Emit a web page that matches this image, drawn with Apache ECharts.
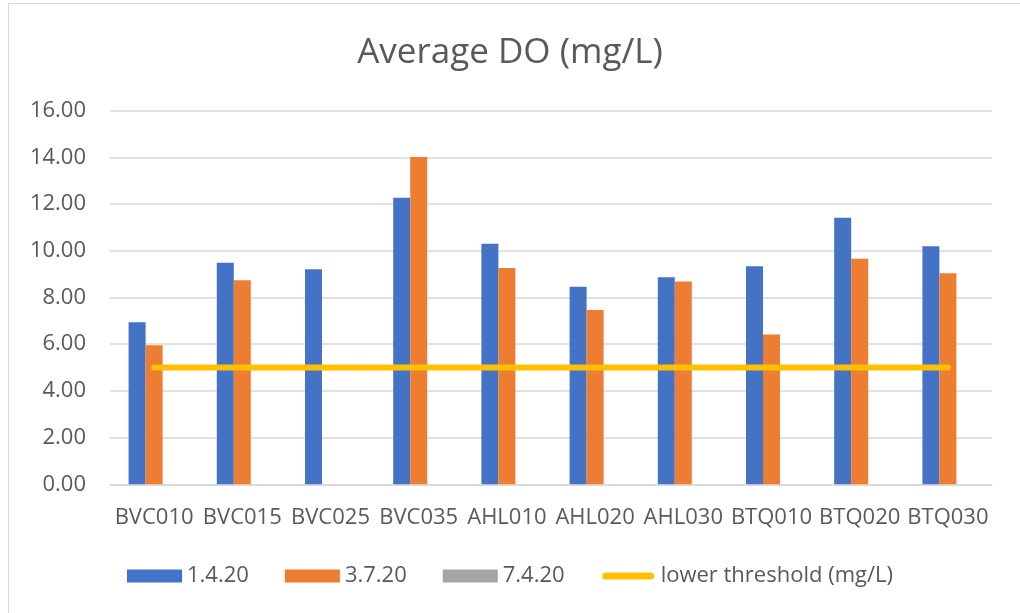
<!DOCTYPE html>
<html>
<head>
<meta charset="utf-8">
<script src="https://cdn.jsdelivr.net/npm/echarts@6/dist/echarts.min.js"></script>
<style>
html,body{margin:0;padding:0;background:#fff;}
#chart{width:1020px;height:613px;}
</style>
</head>
<body>
<div id="chart"></div>
<script>
const categories = ['BVC010','BVC015','BVC025','BVC035','AHL010','AHL020','AHL030','BTQ010','BTQ020','BTQ030'];
const seriesNames = ['1.4.20','3.7.20','7.4.20','lower threshold (mg/L)'];
const values_1_4_20 = [6.94, 9.49, 9.21, 12.27, 10.30, 8.46, 8.87, 9.34, 11.42, 10.19];
const values_3_7_20 = [5.95, 8.74, null, 14.02, 9.26, 7.46, 8.69, 6.42, 9.66, 9.04];
const values_7_4_20 = [null, null, null, null, null, null, null, null, null, null];
const thresholdValues = [5, 5, 5, 5, 5, 5, 5, 5, 5, 5];
const yTicks = {min: 0, max: 16, interval: 2};

const chart = echarts.init(document.getElementById('chart'));
const txt = '#595959';
const font = "'Open Sans', sans-serif";
const lineIcon = 'path://M0,0L0,0Z M55,13L55,13Z M5,3 L50,3 A3.5,3.5 0 0 1 50,10 L5,10 A3.5,3.5 0 0 1 5,3 Z';
chart.setOption({
  animation: false,
  backgroundColor: '#fff',
  graphic: [{
    type: 'rect', shape: {x: 8.5, y: 3.5, width: 1100, height: 700},
    style: {fill: 'none', stroke: '#d9d9d9', lineWidth: 1}, silent: true
  }],
  title: {
    text: 'Average DO (mg/L)', left: 'center', top: 31,
    textStyle: {color: txt, fontFamily: font, fontSize: 35, fontWeight: 'normal'}
  },
  legend: {
    top: 560, left: 'center',
    itemWidth: 55, itemHeight: 13, itemGap: 36,
    textStyle: {color: txt, fontFamily: font, fontSize: 22},
    data: [
      {name: seriesNames[0], icon: 'rect'},
      {name: seriesNames[1], icon: 'rect'},
      {name: seriesNames[2], icon: 'rect'},
      {name: seriesNames[3], icon: lineIcon}
    ]
  },
  grid: {left: 110, right: 28, top: 110.7, bottom: 128.7, containLabel: false},
  xAxis: {
    type: 'category', data: categories,
    axisLine: {lineStyle: {color: '#d9d9d9', width: 1.5}},
    axisTick: {show: false},
    axisLabel: {color: txt, fontFamily: font, fontSize: 22, margin: 22, interval: 0}
  },
  yAxis: {
    type: 'value', min: yTicks.min, max: yTicks.max, interval: yTicks.interval,
    axisLine: {show: false}, axisTick: {show: false},
    splitLine: {lineStyle: {color: '#d9d9d9', width: 1.5}},
    axisLabel: {color: txt, fontFamily: font, fontSize: 22, margin: 24, formatter: v => v.toFixed(2)}
  },
  series: [
    {name: seriesNames[0], type: 'bar', data: values_1_4_20, barWidth: 17, barGap: '0%', itemStyle: {color: '#4472C4'}},
    {name: seriesNames[1], type: 'bar', data: values_3_7_20, barWidth: 17, barGap: '0%', itemStyle: {color: '#ED7D31'}},
    {name: seriesNames[2], type: 'bar', data: values_7_4_20, barWidth: 17, barGap: '0%', itemStyle: {color: '#A5A5A5'}},
    {name: seriesNames[3], type: 'line', data: thresholdValues, symbol: 'none', z: 5,
     itemStyle: {color: '#FFC000'},
     lineStyle: {color: '#FFC000', width: 6, cap: 'round'}}
  ]
});
</script>
</body>
</html>
